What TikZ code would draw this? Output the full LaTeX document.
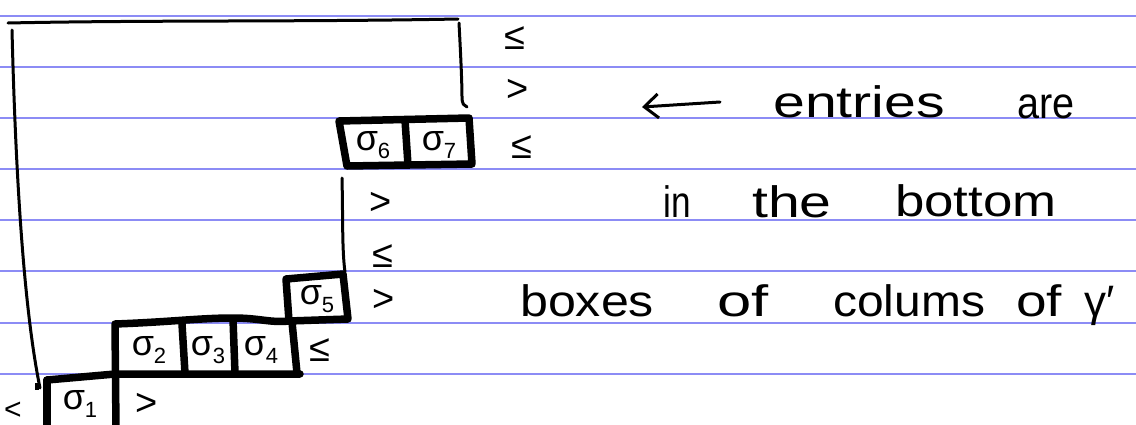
\documentclass[tikz,border=0pt]{standalone}
\usepackage{fontspec}
\setmainfont{Liberation Sans}
\usepackage{graphicx}
\usetikzlibrary{arrows.meta}
\definecolor{ruleblue}{RGB}{140,140,245}
\newcommand{\sig}[1]{σ\raisebox{-0.22em}{\fontsize{22}{22}\selectfont #1}}
\tikzset{
  ruling/.style={draw=ruleblue, line width=2pt},
  frameline/.style={line width=3pt, line cap=round, line join=round},
  boxline/.style={line width=7.5pt, line cap=round, line join=round},
  lab/.style={inner sep=0pt, font=\fontsize{36}{36}\selectfont},
  rel/.style={inner sep=0pt, font=\fontsize{38}{38}\selectfont},
  word/.style={inner sep=0pt, anchor=base west, font=\fontsize{44}{44}\selectfont},
}
\begin{document}
\begin{tikzpicture}[x=1pt,y=-1pt]
\useasboundingbox (0,0) rectangle (1136,424);
\clip (0,0) rectangle (1136,424);
\fill[white] (0,0) rectangle (1136,424);
% ruled paper
\foreach \k in {0,...,7} \draw[ruling] (0,{15.7+51.15*\k}) -- (1136,{15.7+51.15*\k});
% outer frame
\draw[frameline] (8,23) .. controls (150,20) and (300,22) .. (458,19);
\draw[frameline] (12,30) .. controls (15,150) and (22,300) .. (40,388);
\draw[line width=4pt] (37,383) -- (37,390);
\draw[frameline] (459,23) .. controls (461,60) and (462,85) .. (462,97) .. controls (462,104) and (464,106) .. (467,107);
\draw[frameline] (342,178) .. controls (343,220) and (342,250) .. (345,272);
% sigma6 sigma7 box
\draw[boxline] (339,121) -- (469,118) -- (472,164) -- (347,166) -- cycle;
\draw[boxline] (405,120) -- (408,165);
% sigma5 box
\draw[boxline] (286,279) -- (343,274) -- (348,319) -- (289,321) -- cycle;
% sigma2..4 box
\draw[boxline] (116,430) -- (115,324) .. controls (170,322) and (200,318) .. (233,318) .. controls (260,318) and (270,323) .. (289,321);
\draw[boxline] (292,322) -- (297,373);
\draw[boxline] (47,380) -- (115,374) -- (300,374);
\draw[boxline] (182,324) -- (185,373);
\draw[boxline] (233,319) -- (235,373);
% sigma1 box
\draw[boxline] (47,380) -- (47,430);
% entries
\node[lab] (s1) at (80,404) {\sig{1}};
\node[lab] (s2) at (149,350) {\sig{2}};
\node[lab] (s3) at (208,350) {\sig{3}};
\node[lab] (s4) at (261,350) {\sig{4}};
\node[lab] (s5) at (317,299) {\sig{5}};
\node[lab] (s6) at (373,145) {\sig{6}};
\node[lab] (s7) at (439,145) {\sig{7}};
% relations
\node[rel] (r1) at (515,38) {≤};
\node[rel] (r2) at (518,90) {>};
\node[rel] (r3) at (522,147) {≤};
\node[rel] (r4) at (381,203) {>};
\node[rel] (r5) at (383,256) {≤};
\node[rel] (r6) at (384,300) {>};
\node[rel] (r7) at (320,350) {≤};
\node[rel] (r8) at (147,404) {>};
\node[rel, font=\fontsize{30}{30}\selectfont] (r9) at (13,411) {<};
% words
\node[word] (w1) at (773,117) {\scalebox{1.30}[1]{entries}};
\node[word] (w2) at (1017,118) {\scalebox{0.9}[1]{are}};
\node[word] (w3) at (663,217) {\scalebox{0.8}[1]{in}};
\node[word] (w4) at (752,217) {\scalebox{1.3}[1]{the}};
\node[word] (w5) at (895,216) {\scalebox{1.2}[1]{bottom}};
\node[word] (w6) at (520,316) {\scalebox{1.14}[1]{boxes}};
\node[word] (w7) at (717,316) {\scalebox{1.4}[1]{of}};
\node[word] (w8) at (833,316) {\scalebox{1.09}[1]{colums}};
\node[word] (w9) at (1016,316) {\scalebox{1.25}[1]{of}};
\node[word] (w10) at (1084,316) {γ′};
% arrow
\coordinate (aS) at (720,102);
\coordinate (aE) at (642,107);
\draw[frameline, -{Straight Barb[length=14pt,width=24pt]}] (aS) -- (aE);
\end{tikzpicture}
\end{document}
